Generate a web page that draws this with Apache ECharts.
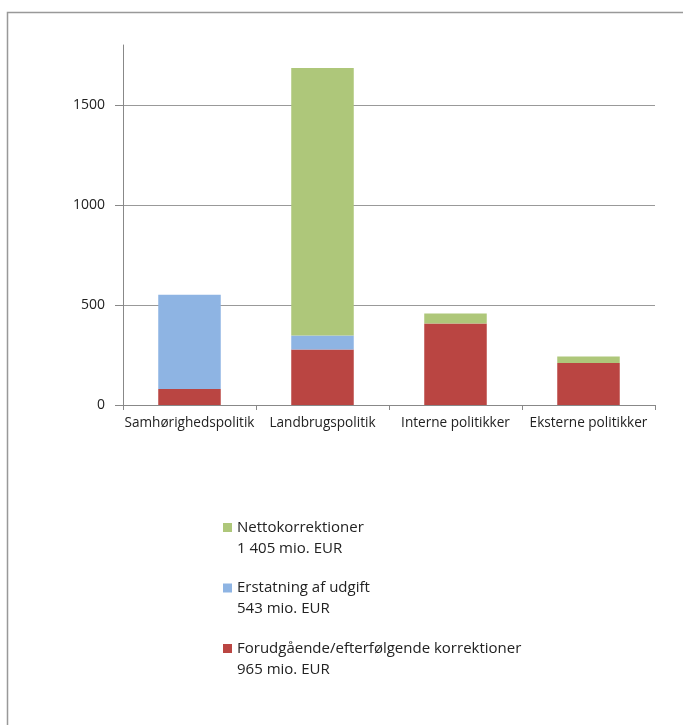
<!DOCTYPE html>
<html><head><meta charset="utf-8">
<script src="https://cdn.jsdelivr.net/npm/echarts@6/dist/echarts.min.js"></script>
<style>html,body{margin:0;padding:0;background:#fff}#c{width:683px;height:725px}</style>
</head><body><div id="c"></div>
<script>
const categories = ['Samhørighedspolitik', 'Landbrugspolitik', 'Interne politikker', 'Eksterne politikker'];
const seriesNames = ['Forudgående/efterfølgende korrektioner', 'Erstatning af udgift', 'Nettokorrektioner'];
const forudgaaende = [80, 278, 408, 210];
const erstatning = [471, 70, 0, 0];
const netto = [0, 1337, 50, 33];
const totals = {
  'Nettokorrektioner': '1 405 mio. EUR',
  'Erstatning af udgift': '543 mio. EUR',
  'Forudgående/efterfølgende korrektioner': '965 mio. EUR'
};
const legendOrder = ['Nettokorrektioner', 'Erstatning af udgift', 'Forudgående/efterfølgende korrektioner'];
const colors = { 'Nettokorrektioner': '#AEC77A', 'Erstatning af udgift': '#8EB4E3', 'Forudgående/efterfølgende korrektioner': '#BA4542' };

const FONT = '"Open Sans", sans-serif';
const chart = echarts.init(document.getElementById('c'));
chart.setOption({
  animation: false,
  backgroundColor: '#fff',
  graphic: [{
    type: 'rect', silent: true,
    shape: { x: 7.5, y: 12.5, width: 720, height: 760 },
    style: { fill: 'none', stroke: '#999', lineWidth: 1.5 }
  }],
  grid: { left: 123, right: 28, top: 45, bottom: 320, containLabel: false },
  legend: {
    orient: 'vertical',
    left: 223, top: 496, padding: 0,
    itemWidth: 9, itemHeight: 9, itemGap: -2.5,
    data: legendOrder,
    icon: 'rect',
    formatter: n => '{t| }\n{t|' + n + '}\n{t|' + totals[n] + '}',
    textStyle: {
      fontFamily: FONT, fontSize: 15, color: '#222', lineHeight: 21,
      rich: { t: { fontFamily: FONT, fontSize: 15, color: '#222', lineHeight: 21 } }
    }
  },
  xAxis: {
    type: 'category', data: categories,
    axisLine: { lineStyle: { color: '#888', width: 1 } },
    axisTick: { show: true, length: 5, lineStyle: { color: '#888' } },
    axisLabel: { fontFamily: FONT, fontSize: 13.6, color: '#222', margin: 11, interval: 0 }
  },
  yAxis: {
    type: 'value', min: 0, max: 1800, interval: 500,
    axisLine: { show: true, lineStyle: { color: '#888' } },
    axisTick: { show: true, length: 8, inside: false, lineStyle: { color: '#888' } },
    axisLabel: { fontFamily: FONT, fontSize: 14, color: '#222', margin: 18, showMaxLabel: false,
      formatter: v => (v % 500 === 0 ? String(v) : '') },
    splitLine: { show: true, lineStyle: { color: ['#999', '#999', '#999', '#999', 'rgba(0,0,0,0)'], width: 1 } }
  },
  series: [
    { name: seriesNames[0], type: 'bar', stack: 's', data: forudgaaende, barWidth: '47%', itemStyle: { color: colors[seriesNames[0]] } },
    { name: seriesNames[1], type: 'bar', stack: 's', data: erstatning, itemStyle: { color: colors[seriesNames[1]] } },
    { name: seriesNames[2], type: 'bar', stack: 's', data: netto, itemStyle: { color: colors[seriesNames[2]] } }
  ]
});
</script></body></html>
